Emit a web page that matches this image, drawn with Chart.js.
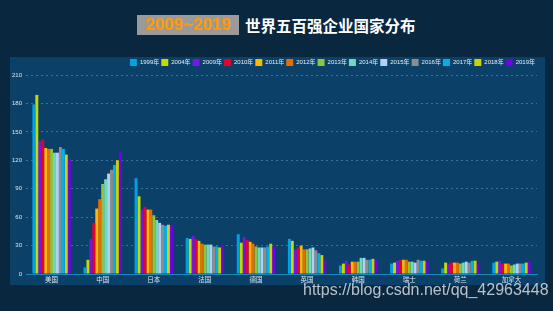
<!DOCTYPE html>
<html>
<head>
<meta charset="utf-8">
<script src="https://cdn.jsdelivr.net/npm/chart.js@4.4.0/dist/chart.umd.min.js"></script>
<style>
  html, body { margin: 0; padding: 0; }
  body { width: 553px; height: 311px; background: #092840; position: relative; overflow: hidden;
         font-family: "Liberation Sans", "Noto Sans CJK SC", sans-serif; }
  #panel { position: absolute; left: 10px; top: 57px; width: 535px; height: 228px; background: #0b4168; }
  #years { position: absolute; left: 137px; top: 15px; width: 102px; height: 20px; background: #9a9a9a;
           color: #ff9a00; font-weight: bold; font-size: 17px; line-height: 20px; text-align: center; }
  #title { position: absolute; left: 245px; top: 14px; color: #ffffff; font-weight: bold; font-size: 15.5px;
           line-height: 22px; font-family: "Noto Sans CJK SC", sans-serif; }
  #wrap { position: absolute; left: 0; top: 57px; width: 553px; height: 228px; }
  #mark { position: absolute; left: 303px; top: 281px; color: rgba(215,220,225,0.85); font-size: 16px; }
</style>
</head>
<body>
<div id="panel"></div>
<div id="years">2009~2019</div>
<div id="title">世界五百强企业国家分布</div>
<div id="wrap"><canvas id="chart"></canvas></div>
<div id="mark">https://blog.csdn.net/qq_42963448</div>
<script>
// countries on the x axis
const countries = ['美国', '中国', '日本', '法国', '德国', '英国', '韩国', '瑞士', '荷兰', '加拿大'];
const years = ['1999年', '2004年', '2009年', '2010年', '2011年', '2012年', '2013年', '2014年', '2015年', '2016年', '2017年', '2018年', '2019年'];

// number of companies per country, one array per year
const y1999 = [179, 7, 101, 38, 42, 37, 9, 11, 6, 12];
const y2004 = [189, 15, 82, 37, 33, 35, 11, 12, 12, 13];
const y2009 = [140, 37, 68, 40, 39, 26, 14, 14, 11, 14];
const y2010 = [142, 54, 71, 37, 36, 28, 10, 15, 12, 11];
const y2011 = [133, 69, 68, 35, 34, 30, 13, 15, 12, 11];
const y2012 = [132, 79, 68, 32, 32, 26, 13, 15, 12, 11];
const y2013 = [132, 95, 62, 31, 29, 26, 13, 13, 11, 9];
const y2014 = [128, 100, 57, 31, 28, 27, 17, 13, 12, 10];
const y2015 = [128, 106, 54, 31, 28, 28, 17, 12, 13, 11];
const y2016 = [134, 110, 52, 29, 28, 25, 15, 15, 12, 11];
const y2017 = [132, 115, 51, 29, 29, 22, 15, 14, 14, 11];
const y2018 = [126, 120, 52, 28, 32, 20, 16, 14, 14, 12];
const y2019 = [121, 129, 52, 31, 29, 15, 15, 13, 11, 13];

const yTicks = [0, 30, 60, 90, 120, 150, 180, 210];

const colors = ['#00a2e0', '#c8d800', '#7b12e8', '#e8002c', '#ffb800', '#e86c00', '#8cc63e',
                '#6ed8c0', '#b4d0f0', '#8c8c8c', '#00b0e8', '#d0d000', '#7000e8'];
const series = [y1999, y2004, y2009, y2010, y2011, y2012, y2013, y2014, y2015, y2016, y2017, y2018, y2019];

// legend height fixed so the plot starts where the reference does
const legendHeight = {
  id: 'legendHeight',
  beforeInit(chart) {
    const fit = chart.legend.fit;
    chart.legend.fit = function () {
      fit.call(this);
      this.height = 18;
    };
  }
};

new Chart(document.getElementById('chart'), {
  type: 'bar',
  data: {
    labels: countries,
    datasets: series.map((d, i) => ({
      label: years[i],
      data: d,
      backgroundColor: colors[i],
      borderWidth: 0,
      categoryPercentage: 0.75,
      barPercentage: 1
    }))
  },
  plugins: [legendHeight],
  options: {
    responsive: true,
    maintainAspectRatio: false,
    animation: false,
    layout: { padding: { left: 6, right: 16, top: 0, bottom: 0 } },
    plugins: {
      tooltip: { enabled: false },
      legend: {
        align: 'end',
        labels: {
          color: '#e6eef5',
          boxWidth: 7,
          boxHeight: 7,
          padding: 2,
          font: { size: 6, family: '"Liberation Sans", "Noto Sans CJK SC", sans-serif' }
        }
      }
    },
    scales: {
      x: {
        afterFit: s => { s.height = 11; },
        grid: { display: false, drawTicks: false },
        border: { display: true, color: '#1b86b8', width: 1 },
        ticks: { color: '#dde6ee', padding: 2, maxRotation: 0, autoSkip: false,
                 font: { size: 6.5, family: '"Noto Sans CJK SC", sans-serif' } }
      },
      y: {
        min: 0,
        max: 210,
        afterFit: s => { s.width = 20; },
        afterBuildTicks: s => { s.ticks = yTicks.map(v => ({ value: v })); },
        grid: { color: 'rgba(90,160,205,0.55)', lineWidth: 1, drawTicks: false },
        border: { display: false, dash: [2, 3] },
        ticks: { color: '#dde6ee', padding: 4, font: { size: 6, family: '"Liberation Sans", sans-serif' } }
      }
    }
  }
});
</script>
</body>
</html>
